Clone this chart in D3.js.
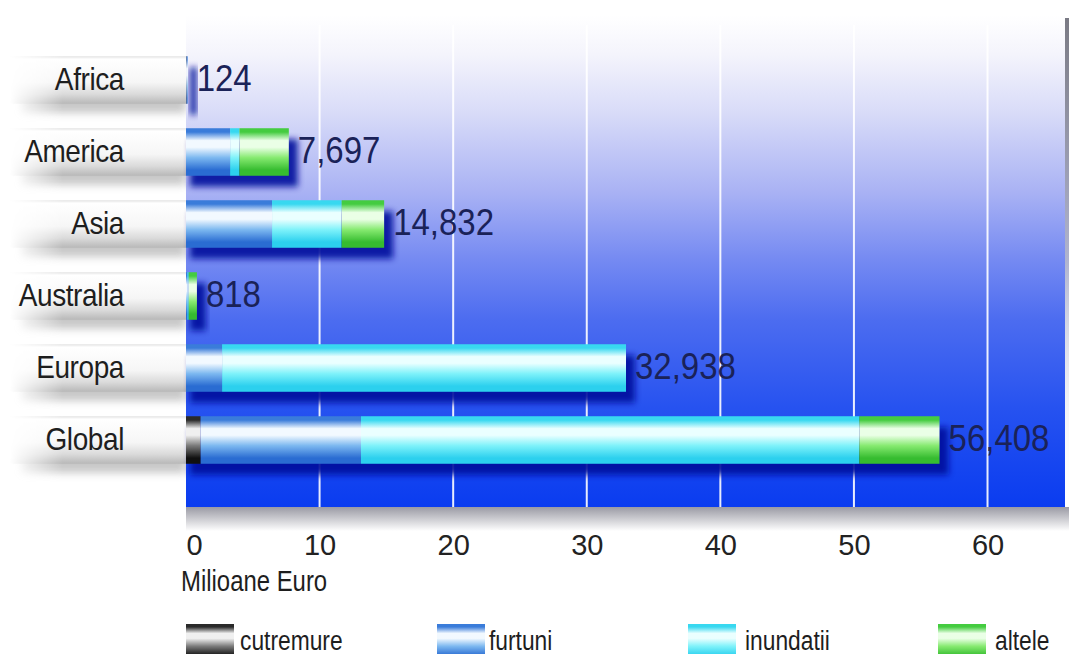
<!DOCTYPE html>
<html>
<head>
<meta charset="utf-8">
<script src="https://cdn.jsdelivr.net/npm/d3@7"></script>
<style>
  html, body { margin: 0; padding: 0; background: #fff; overflow: hidden; }
  svg { display: block; font-family: "Liberation Sans", Arial, sans-serif; }
</style>
</head>
<body>
<div id="chart"></div>
<script>
const width = 1070, height = 654;

// regions, top to bottom
const regions = ['Africa', 'America', 'Asia', 'Australia', 'Europa', 'Global'];
// damage per cause, millions of euro
const cutremure = [0.04, 0, 0, 0, 0, 1.1];
const furtuni   = [0.084, 3.3, 6.44, 0.1, 2.7, 12.0];
const inundatii = [0, 0.7, 5.21, 0.1, 30.238, 37.3];
const altele    = [0, 3.697, 3.182, 0.618, 0, 6.008];
// totals printed after each bar (thousands)
const totalLabels = ['124', '7,697', '14,832', '818', '32,938', '56,408'];
const totals = [0.124, 7.697, 14.832, 0.818, 32.938, 56.408];

const causes = ['cutremure', 'furtuni', 'inundatii', 'altele'];
const xTicks = [0, 10, 20, 30, 40, 50, 60];

// cylinder shading for each cause: [top, highlight, lower, bottom]
const shades = {
  cutremure: ['#2a2a2a', '#f0f0f0', '#7a7a7a', '#101010'],
  furtuni:   ['#3a7cda', '#f2f9ff', '#7cb8f0', '#2a6cd2'],
  inundatii: ['#38d8f0', '#eaffff', '#7ef2fa', '#2cd0ee'],
  altele:    ['#44cc40', '#eaffe6', '#86ea70', '#36bc30']
};

const rows = regions.map((r, i) => ({
  region: r,
  cutremure: cutremure[i],
  furtuni: furtuni[i],
  inundatii: inundatii[i],
  altele: altele[i],
  total: totals[i],
  label: totalLabels[i]
}));

const plot = { left: 186, right: 1065, top: 15, bottom: 507 };

const x = d3.scaleLinear().domain([0, 65.8]).range([plot.left, plot.right]);
const y = d3.scaleBand().domain(regions).range([44, 476])
  .paddingInner(0.34).paddingOuter(0.17);

const svg = d3.select('#chart').append('svg')
  .attr('width', width).attr('height', height);

const defs = svg.append('defs');

// plot background: white at the top down to strong blue
const bg = defs.append('linearGradient').attr('id', 'bg')
  .attr('x1', 0).attr('y1', 0).attr('x2', 0).attr('y2', 1);
[[0, '#ffffff'], [0.08, '#f4f4fc'], [0.2, '#d8dbf8'], [0.36, '#a9b2f4'],
 [0.5, '#7489f2'], [0.62, '#4c6cf0'], [0.8, '#2652f0'], [1, '#0a3cf0']]
  .forEach(([o, c]) => bg.append('stop').attr('offset', o).attr('stop-color', c));

causes.forEach(k => {
  const g = defs.append('linearGradient').attr('id', 'g-' + k)
    .attr('x1', 0).attr('y1', 0).attr('x2', 0).attr('y2', 1);
  const s = shades[k];
  [[0, s[0]], [0.08, s[0]], [0.26, s[1]], [0.4, s[1]], [0.62, s[2]], [0.88, s[3]], [1, s[3]]]
    .forEach(([o, c]) => g.append('stop').attr('offset', o).attr('stop-color', c));
});

// white tabs behind the region names
const tabGrad = defs.append('linearGradient').attr('id', 'tab')
  .attr('x1', 0).attr('y1', 0).attr('x2', 0).attr('y2', 1);
[[0, '#e2e2e2'], [0.06, '#ffffff'], [0.55, '#f6f6f6'], [0.8, '#dadada'], [1, '#b8b8b8']]
  .forEach(([o, c]) => tabGrad.append('stop').attr('offset', o).attr('stop-color', c));

const tabFade = defs.append('linearGradient').attr('id', 'tabFade')
  .attr('x1', 0).attr('y1', 0).attr('x2', 1).attr('y2', 0);
[[0, 'black'], [0.3, 'white'], [1, 'white']]
  .forEach(([o, c]) => tabFade.append('stop').attr('offset', o).attr('stop-color', c));
defs.append('mask').attr('id', 'tabMask')
  .attr('maskUnits', 'userSpaceOnUse')
  .attr('x', 0).attr('y', 0).attr('width', plot.left).attr('height', height)
  .append('rect').attr('x', 10).attr('y', 0).attr('width', plot.left - 10).attr('height', height)
  .attr('fill', 'url(#tabFade)');

const bottomShade = defs.append('linearGradient').attr('id', 'bottomShade')
  .attr('x1', 0).attr('y1', 0).attr('x2', 0).attr('y2', 1);
bottomShade.append('stop').attr('offset', 0).attr('stop-color', '#9a9aa4');
bottomShade.append('stop').attr('offset', 1).attr('stop-color', '#ffffff');

const edgeShade = defs.append('linearGradient').attr('id', 'edgeShade')
  .attr('x1', 0).attr('y1', 0).attr('x2', 0).attr('y2', 1);
edgeShade.append('stop').attr('offset', 0).attr('stop-color', '#7a7a84');
edgeShade.append('stop').attr('offset', 0.5).attr('stop-color', '#b0b4d0');
edgeShade.append('stop').attr('offset', 1).attr('stop-color', '#ffffff').attr('stop-opacity', 0);

defs.append('filter').attr('id', 'blur')
  .attr('x', '-20%').attr('y', '-50%').attr('width', '140%').attr('height', '200%')
  .append('feGaussianBlur').attr('stdDeviation', 3);
defs.append('filter').attr('id', 'blurSoft')
  .attr('x', '-20%').attr('y', '-50%').attr('width', '140%').attr('height', '200%')
  .append('feGaussianBlur').attr('stdDeviation', 4);

// background, edge shades
svg.append('rect')
  .attr('x', plot.left).attr('y', plot.bottom)
  .attr('width', plot.right - plot.left + 4).attr('height', 24)
  .attr('fill', 'url(#bottomShade)');
svg.append('rect')
  .attr('x', plot.right).attr('y', plot.top + 3)
  .attr('width', 4).attr('height', plot.bottom - plot.top - 3)
  .attr('fill', 'url(#edgeShade)');
svg.append('rect')
  .attr('x', plot.left).attr('y', plot.top)
  .attr('width', plot.right - plot.left).attr('height', plot.bottom - plot.top)
  .attr('fill', 'url(#bg)');

// vertical grid
svg.append('g')
  .selectAll('line')
  .data(xTicks.filter(d => d > 0))
  .join('line')
  .attr('x1', d => x(d)).attr('x2', d => x(d))
  .attr('y1', plot.top + 10).attr('y2', plot.bottom)
  .attr('stroke', '#ffffff').attr('stroke-width', 2).attr('stroke-opacity', 0.9);

// region tabs with soft shadow
const tabs = svg.append('g').attr('mask', 'url(#tabMask)');
tabs.selectAll('rect.shadow')
  .data(rows)
  .join('rect').attr('class', 'shadow')
  .attr('x', 20).attr('y', d => y(d.region) + 9)
  .attr('width', plot.left - 20).attr('height', y.bandwidth())
  .attr('fill', '#9a9a9a').attr('opacity', 0.55)
  .attr('filter', 'url(#blurSoft)');
tabs.selectAll('rect.tab')
  .data(rows)
  .join('rect').attr('class', 'tab')
  .attr('x', 10).attr('y', d => y(d.region))
  .attr('width', plot.left - 10).attr('height', y.bandwidth())
  .attr('fill', 'url(#tab)');

svg.append('g')
  .selectAll('text')
  .data(rows)
  .join('text')
  .attr('transform', d => `translate(124,${y(d.region) + y.bandwidth() / 2 + 10}) scale(1,1.15)`)
  .attr('text-anchor', 'end')
  .attr('font-size', 28)
  .attr('letter-spacing', -0.4)
  .attr('fill', '#1e1e1e')
  .text(d => d.region);

// bar shadows
svg.append('g')
  .selectAll('rect')
  .data(rows)
  .join('rect')
  .attr('x', x(0) + 4).attr('y', d => y(d.region) + 11)
  .attr('width', d => x(d.total) - x(0) + 5).attr('height', y.bandwidth())
  .attr('fill', '#000f9c').attr('opacity', 0.9)
  .attr('filter', 'url(#blur)');

// stacked bars
const series = d3.stack().keys(causes)(rows);
svg.append('g')
  .selectAll('g')
  .data(series)
  .join('g')
  .attr('fill', d => `url(#g-${d.key})`)
  .selectAll('rect')
  .data(d => d)
  .join('rect')
  .attr('x', d => x(d[0]))
  .attr('y', d => y(d.data.region))
  .attr('width', d => Math.max(0, x(d[1]) - x(d[0])))
  .attr('height', y.bandwidth());

// totals after each bar
svg.append('g')
  .selectAll('text')
  .data(rows)
  .join('text')
  .attr('transform', d => `translate(${x(d.total) + 9},${y(d.region) + y.bandwidth() / 2 + 11}) scale(1,1.1)`)
  .attr('font-size', 33)
  .attr('fill', '#1a2258')
  .text(d => d.label);

// x axis labels
const xAxis = svg.append('g')
  .attr('transform', `translate(0,${plot.bottom})`)
  .call(d3.axisBottom(x).tickValues(xTicks).tickSize(0).tickPadding(0));
xAxis.select('.domain').remove();
xAxis.selectAll('text')
  .attr('font-family', '"Liberation Sans", Arial, sans-serif')
  .attr('font-size', 29)
  .attr('fill', '#222')
  .attr('dy', null)
  .attr('y', 48)
  .attr('text-anchor', d => d === 0 ? 'start' : 'middle');

svg.append('text')
  .attr('transform', 'translate(181,591) scale(0.92,1.12)')
  .attr('font-size', 26)
  .attr('fill', '#1e1e1e')
  .text('Milioane Euro');

// legend
const legendX = [186, 437, 688, 938];
const legendTextDx = [54, 52, 57, 57];
const legend = svg.append('g')
  .selectAll('g')
  .data(causes)
  .join('g')
  .attr('transform', (d, i) => `translate(${legendX[i]},624)`);
legend.append('rect')
  .attr('width', 48).attr('height', 36)
  .attr('fill', d => `url(#g-${d})`);
legend.append('text')
  .attr('transform', (d, i) => `translate(${legendTextDx[i]},26) scale(0.95,1.15)`)
  .attr('font-size', 24)
  .attr('fill', '#1e1e1e')
  .text(d => d);
</script>
</body>
</html>
